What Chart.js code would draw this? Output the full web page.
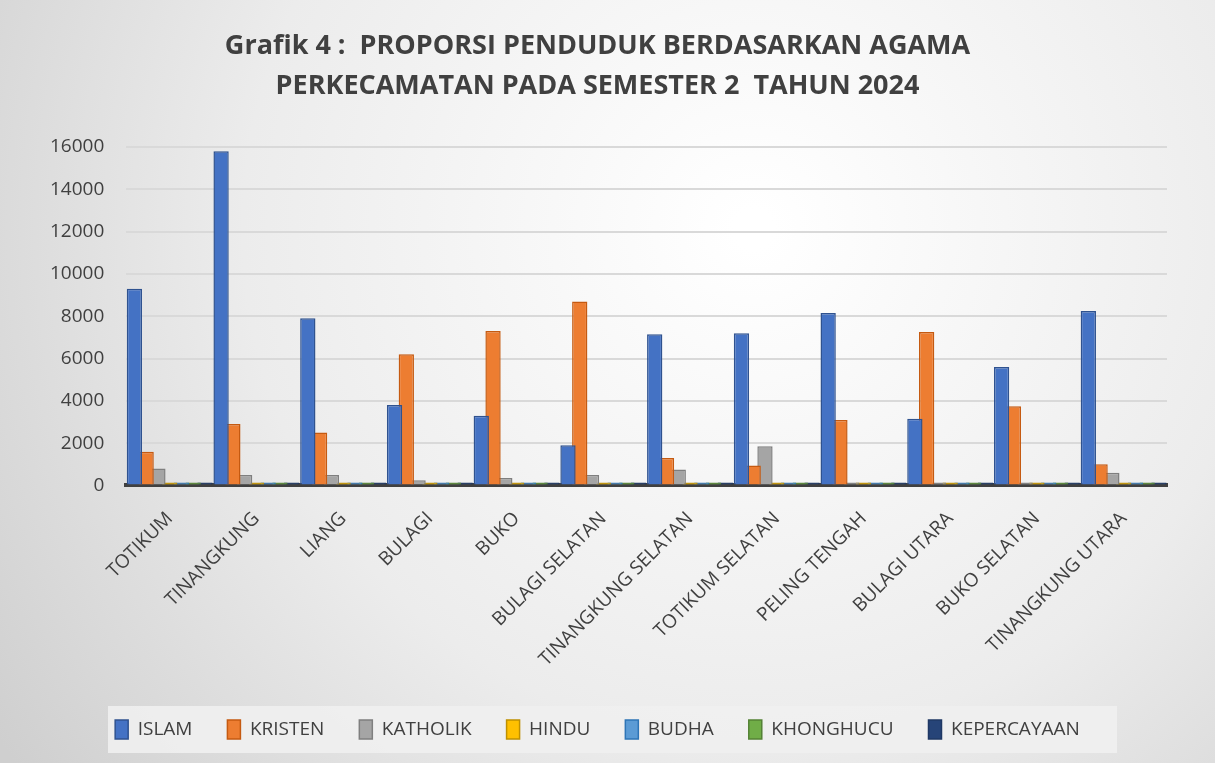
<!DOCTYPE html>
<html>
<head>
<meta charset="utf-8">
<script src="https://cdn.jsdelivr.net/npm/chart.js@4.4.1/dist/chart.umd.min.js"></script>
<style>
  html, body { margin: 0; padding: 0; background: #e6e6e6; }
  #wrap { width: 1215px; height: 763px; }
</style>
</head>
<body>
<div id="wrap"><canvas id="chart"></canvas></div>
<script>
// data kecamatan
const kecamatan = ['TOTIKUM', 'TINANGKUNG', 'LIANG', 'BULAGI', 'BUKO', 'BULAGI SELATAN',
  'TINANGKUNG SELATAN', 'TOTIKUM SELATAN', 'PELING TENGAH', 'BULAGI UTARA', 'BUKO SELATAN', 'TINANGKUNG UTARA'];

const islam       = [9300, 15800, 7900, 3800, 3300, 1900, 7150, 7200, 8150, 3150, 5600, 8250];
const kristen     = [1600, 2900, 2500, 6200, 7300, 8700, 1300, 950, 3100, 7250, 3750, 1000];
const katholik    = [800, 500, 500, 250, 350, 500, 750, 1850, 100, 50, 100, 600];
const hindu       = [20, 15, 10, 10, 10, 10, 10, 10, 10, 10, 10, 10];
const budha       = [20, 20, 10, 10, 10, 10, 10, 10, 10, 10, 10, 10];
const khonghucu   = [5, 5, 5, 5, 5, 5, 5, 5, 5, 5, 5, 5];
const kepercayaan = [10, 10, 10, 10, 10, 10, 10, 10, 10, 10, 10, 10];

const yTicks = [0, 2000, 4000, 6000, 8000, 10000, 12000, 14000, 16000];

function ds(label, data, color, border) {
  return {
    label: label,
    data: data,
    backgroundColor: color,
    borderColor: border,
    borderWidth: 1.5,
    minBarLength: 3,
    categoryPercentage: 0.95,
    barPercentage: 1.3
  };
}

// latar belakang gradasi seperti excel
const bgPlugin = {
  id: 'bg',
  beforeDraw(chart) {
    const c = chart.ctx;
    const w = chart.width, h = chart.height;
    const g = c.createRadialGradient(w * 0.62, h * 0.3, 20, w * 0.62, h * 0.3, w * 0.75);
    g.addColorStop(0, '#ffffff');
    g.addColorStop(0.55, '#ececec');
    g.addColorStop(1, '#cfcfcf');
    c.save();
    c.fillStyle = g;
    c.fillRect(0, 0, w, h);
    // kotak legenda
    const lg = chart.legend;
    if (lg && lg.legendHitBoxes.length) {
      const boxes = lg.legendHitBoxes;
      const x0 = 108, x1 = 1117;
      const y0 = boxes[0].top - 14, y1 = boxes[0].top + boxes[0].height + 14;
      c.fillStyle = 'rgba(240,240,240,0.9)';
      c.fillRect(x0, y0, x1 - x0, y1 - y0);
    }
    c.restore();
  }
};

new Chart(document.getElementById('chart'), {
  type: 'bar',
  data: {
    labels: kecamatan,
    datasets: [
      ds('ISLAM', islam, '#4472C4', '#2F528F'),
      ds('KRISTEN', kristen, '#ED7D31', '#C55A11'),
      ds('KATHOLIK', katholik, '#A5A5A5', '#7F7F7F'),
      ds('HINDU', hindu, '#FFC000', '#BF9000'),
      ds('BUDHA', budha, '#5B9BD5', '#2E75B6'),
      ds('KHONGHUCU', khonghucu, '#70AD47', '#548235'),
      ds('KEPERCAYAAN', kepercayaan, '#264478', '#1F3864')
    ]
  },
  options: {
    responsive: true,
    maintainAspectRatio: false,
    animation: false,
    layout: { padding: { left: 28, right: 48, top: 14, bottom: 14 } },
    plugins: {
      title: {
        display: true,
        text: ['Grafik 4 :  PROPORSI PENDUDUK BERDASARKAN AGAMA', 'PERKECAMATAN PADA SEMESTER 2  TAHUN 2024'],
        color: '#404040',
        font: { family: 'Open Sans', size: 27, weight: 'bold', lineHeight: 1.48 },
        padding: { top: 12, bottom: 41 }
      },
      legend: {
        position: 'bottom',
        labels: {
          color: '#404040',
          font: { family: 'Open Sans', size: 19 },
          boxWidth: 13,
          boxHeight: 19,
          padding: 35
        }
      },
      tooltip: { enabled: false }
    },
    scales: {
      x: {
        grid: { display: false },
        border: { color: '#404040', width: 4 },
        ticks: {
          color: '#404040',
          font: { family: 'Open Sans', size: 19 },
          minRotation: 45,
          maxRotation: 45,
          padding: 14
        }
      },
      y: {
        min: 0,
        max: 16000,
        afterBuildTicks(axis) { axis.ticks = yTicks.map(v => ({ value: v })); },
        grid: { color: '#d9d9d9', lineWidth: 2, drawTicks: false },
        border: { display: false },
        ticks: {
          color: '#404040',
          font: { family: 'Open Sans', size: 19 },
          padding: 22,
          callback: v => String(v)
        }
      }
    }
  },
  plugins: [bgPlugin]
});
</script>
</body>
</html>
